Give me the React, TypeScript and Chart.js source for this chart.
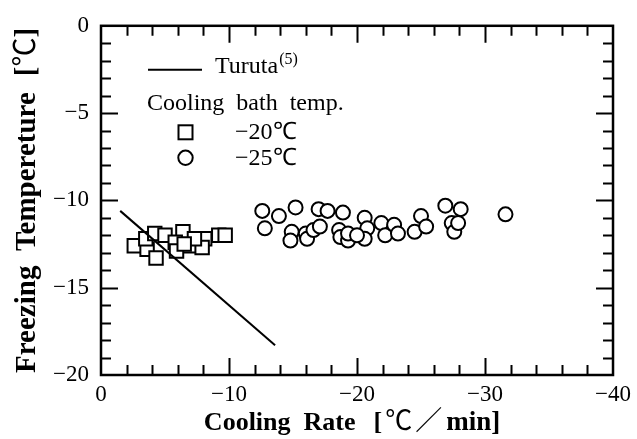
import React, { useEffect, useRef } from 'react';
import { Chart, registerables } from 'chart.js';

Chart.register(...registerables);

// ---- data ----
const turutaX = [-1.5, -13.6];
const turutaY = [-10.6, -18.3];

const squareX = [-2.6, -3.6, -3.5, -4.2, -5.0, -6.4, -5.8, -6.9, -8.1, -7.9, -9.2, -9.7, -5.9, -4.3, -7.3, -6.5];
const squareY = [-12.6, -12.8, -12.2, -11.9, -12.0, -11.8, -12.4, -12.6, -12.2, -12.7, -12.0, -12.0, -12.9, -13.3, -12.2, -12.5];

const circleX = [
  -12.6, -13.9, -15.2, -12.8, -17.0, -17.7, -18.9, -14.9, -14.8, -16.0, -16.1, -16.6,
  -17.1, -18.6, -18.7, -19.3, -19.3, -20.6, -20.8, -20.6, -20.0, -21.9, -22.2, -22.9,
  -23.2, -24.5, -25.0, -25.4, -26.9, -28.1, -27.4, -27.6, -27.9, -31.6,
];
const circleY = [
  -10.6, -10.9, -10.4, -11.6, -10.5, -10.6, -10.7, -11.8, -12.3, -11.9, -12.2, -11.7,
  -11.5, -11.7, -12.1, -12.3, -11.9, -11.0, -11.6, -12.2, -12.0, -11.3, -12.0, -11.4,
  -11.9, -11.8, -10.9, -11.5, -10.3, -10.5, -11.3, -11.8, -11.3, -10.8,
];

const xMin = -40;
const xMax = 0;
const yMin = -20;
const yMax = 0;
const xMajorStep = 10;
const yMajorStep = 5;
const xMinorStep = 2;
const yMinorStep = 1;

const legendLine = 'Turuta';
const legendLineSup = '(5)';
const legendHeading = 'Cooling  bath  temp.';
const legendSquare = '\u221220\u2103';
const legendCircle = '\u221225\u2103';

const SERIF = "'Liberation Serif', 'Times New Roman', serif";
const CJK = "'Noto Sans CJK JP', 'DejaVu Sans', sans-serif";

const fmt = (v: number | string) => {
  const n = Number(v);
  return n === 0 ? '0' : '\u2212' + Math.abs(n);
};

type Piece = { t: string; f: string; gap?: number };

function drawPieces(ctx: CanvasRenderingContext2D, pieces: Piece[], startX: number, baseY: number) {
  let x = startX;
  for (const p of pieces) {
    x += p.gap || 0;
    ctx.font = p.f;
    ctx.fillText(p.t, x, baseY);
    x += ctx.measureText(p.t).width;
  }
}

function piecesWidth(ctx: CanvasRenderingContext2D, pieces: Piece[]) {
  let w = 0;
  for (const p of pieces) {
    w += p.gap || 0;
    ctx.font = p.f;
    w += ctx.measureText(p.t).width;
  }
  return w;
}

const framePlugin = {
  id: 'frameAndDecor',
  afterDraw(chart: any) {
    const ctx: CanvasRenderingContext2D = chart.ctx;
    const { left, right, top, bottom } = chart.chartArea;
    const xs = chart.scales.x;
    const ys = chart.scales.y;
    ctx.save();
    ctx.strokeStyle = '#000';
    ctx.fillStyle = '#000';
    // frame
    ctx.lineWidth = 2.5;
    ctx.strokeRect(left, top, right - left, bottom - top);
    // ticks inward on all four sides
    ctx.lineWidth = 2;
    ctx.beginPath();
    for (let v = xMax; v >= xMin; v -= xMinorStep) {
      if (v === xMax || v === xMin) continue;
      const px = Math.round(xs.getPixelForValue(v)) + 0.5;
      const len = v % xMajorStep === 0 ? 17 : 10;
      ctx.moveTo(px, bottom);
      ctx.lineTo(px, bottom - len);
      ctx.moveTo(px, top);
      ctx.lineTo(px, top + len);
    }
    for (let v = yMax; v >= yMin; v -= yMinorStep) {
      if (v === yMax || v === yMin) continue;
      const py = Math.round(ys.getPixelForValue(v)) + 0.5;
      const len = v % yMajorStep === 0 ? 17 : 10;
      ctx.moveTo(left, py);
      ctx.lineTo(left + len, py);
      ctx.moveTo(right, py);
      ctx.lineTo(right - len, py);
    }
    ctx.stroke();

    // legend
    ctx.textAlign = 'left';
    ctx.textBaseline = 'alphabetic';
    ctx.lineWidth = 2;
    ctx.beginPath();
    ctx.moveTo(left + 47, top + 44);
    ctx.lineTo(left + 101, top + 44);
    ctx.stroke();
    ctx.font = `24px ${SERIF}`;
    ctx.fillText(legendLine, left + 114, top + 47);
    const tw = ctx.measureText(legendLine).width;
    ctx.font = `16px ${SERIF}`;
    ctx.fillText(legendLineSup, left + 114 + tw + 1, top + 38);
    ctx.font = `24px ${SERIF}`;
    ctx.fillText(legendHeading, left + 46, top + 84);
    // square marker
    ctx.lineWidth = 2;
    ctx.strokeRect(left + 77.5, top + 99.5, 14, 14);
    ctx.fillText(legendSquare, left + 134, top + 113);
    // circle marker
    ctx.beginPath();
    ctx.arc(left + 84.5, top + 132, 7.2, 0, Math.PI * 2);
    ctx.stroke();
    ctx.fillText(legendCircle, left + 134, top + 139);

    // x axis title
    const xPieces: Piece[] = [
      { t: 'Cooling  Rate', f: `bold 26px ${SERIF}` },
      { t: '[', f: `bold 26px ${SERIF}`, gap: 18 },
      { t: '\u2103', f: `27px ${CJK}`, gap: 3 },
      { t: '\uFF0F', f: `27px ${CJK}`, gap: 3 },
      { t: 'min]', f: `bold 27px ${SERIF}`, gap: 4 },
    ];
    const xw = piecesWidth(ctx, xPieces);
    const xc = (left + right) / 2 - 5;
    drawPieces(ctx, xPieces, xc - xw / 2, 430);

    // y axis title (rotated)
    const yPieces: Piece[] = [
      { t: 'Freezing  Tempereture', f: `bold 29px ${SERIF}` },
      { t: '[', f: `bold 29px ${SERIF}`, gap: 16 },
      { t: '\u2103', f: `29px ${CJK}`, gap: 0 },
      { t: ']', f: `bold 29px ${SERIF}`, gap: 0 },
    ];
    const yw = piecesWidth(ctx, yPieces);
    const yc = (top + bottom) / 2;
    ctx.translate(35, yc);
    ctx.rotate(-Math.PI / 2);
    drawPieces(ctx, yPieces, -yw / 2, 0);
    ctx.restore();
  },
};

export default function App() {
  const ref = useRef<HTMLCanvasElement | null>(null);
  useEffect(() => {
    document.body.style.margin = '0';
    if (!ref.current) return;
    const chart = new Chart(ref.current, {
      type: 'scatter',
      data: {
        datasets: [
          {
            label: 'Turuta',
            data: turutaX.map((x, i) => ({ x, y: turutaY[i] })),
            showLine: true,
            borderColor: '#000',
            borderWidth: 2,
            pointRadius: 0,
            fill: false,
          },
          {
            label: '-20',
            data: squareX.map((x, i) => ({ x, y: squareY[i] })),
            pointStyle: 'rect',
            pointRadius: 9.5,
            borderColor: '#000',
            backgroundColor: '#fff',
            borderWidth: 2,
          },
          {
            label: '-25',
            data: circleX.map((x, i) => ({ x, y: circleY[i] })),
            pointStyle: 'circle',
            pointRadius: 7,
            borderColor: '#000',
            backgroundColor: '#fff',
            borderWidth: 2,
          },
        ] as any,
      },
      options: {
        animation: false,
        responsive: false,
        devicePixelRatio: 1,
        layout: { padding: { left: 0, top: 18, right: 21, bottom: 0 } },
        plugins: { legend: { display: false }, tooltip: { enabled: false } },
        scales: {
          x: {
            type: 'linear',
            min: xMin,
            max: xMax,
            reverse: true,
            ticks: {
              stepSize: xMajorStep,
              callback: fmt,
              font: { family: SERIF, size: 23 },
              color: '#000',
              padding: 6,
              maxRotation: 0,
              autoSkip: false,
            },
            grid: { display: false, drawTicks: false },
            border: { display: false },
            afterFit: (s: any) => {
              s.height = 64;
            },
          },
          y: {
            type: 'linear',
            min: yMin,
            max: yMax,
            ticks: {
              stepSize: yMajorStep,
              callback: fmt,
              font: { family: SERIF, size: 23 },
              color: '#000',
              padding: 12,
              autoSkip: false,
            },
            grid: { display: false, drawTicks: false },
            border: { display: false },
            afterFit: (s: any) => {
              s.width = 101;
            },
          },
        },
      } as any,
      plugins: [framePlugin],
    });
    return () => chart.destroy();
  }, []);
  return (
    <div style={{ position: 'absolute', left: 0, top: 0, width: 637, height: 439, background: '#fff' }}>
      <canvas ref={ref} width={637} height={439} style={{ width: 637, height: 439 }} />
    </div>
  );
}
